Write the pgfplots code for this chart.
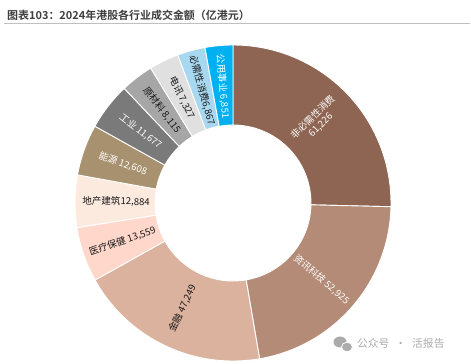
\documentclass[border=0pt]{standalone}
\usepackage{pgfplots}
\usepackage{pgfplotstable}
\pgfplotsset{compat=1.18}
\usepackage{fontspec}
\setmainfont{Noto Sans CJK SC}[BoldFont={Noto Sans CJK SC Bold}]
\definecolor{s0}{HTML}{8E6552}
\definecolor{s1}{HTML}{B38B76}
\definecolor{s2}{HTML}{DBB29E}
\definecolor{s3}{HTML}{FFD7CB}
\definecolor{s4}{HTML}{FDEADF}
\definecolor{s5}{HTML}{A8916F}
\definecolor{s6}{HTML}{7A7A7A}
\definecolor{s7}{HTML}{A6A6A6}
\definecolor{s8}{HTML}{E0E0E0}
\definecolor{s9}{HTML}{A8D8F0}
\definecolor{s10}{HTML}{00B0F0}
\definecolor{titlec}{HTML}{3F3F3F}
\definecolor{wm}{HTML}{ABABAB}
\pgfplotstableread{
idx value
0 61226
1 52925
2 47249
3 13559
4 12884
5 12608
6 11677
7 8115
8 7327
9 6867
10 6851
}\sectordata
\newcommand\sliceX[3]{%
  \path[fill=s#1,draw=white,line width=0.9bp]
    ([shift={(#2:78bp)}]axis cs:233,161) -- ([shift={(#2:158bp)}]axis cs:233,161)
    arc[start angle=#2,end angle=#3,radius=158bp]
    -- ([shift={(#3:78bp)}]axis cs:233,161)
    arc[start angle=#3,end angle=#2,radius=78bp] -- cycle;
}
\newcommand\slice[1]{%
  \edef\tmp{\noexpand\sliceX{#1}{\csname ang#1\endcsname}{\csname ang\the\numexpr#1+1\relax\endcsname}}%
  \tmp
}
\newcommand\labX[4]{%
  \node[text=#1,font=\fontsize{9.6}{11}\selectfont,align=center,inner sep=0pt,rotate=#3]
    at ([shift={(#2:117bp)}]axis cs:233,161) {#4};
}
\newcommand\lab[3]{%
  \edef\tmp{\noexpand\labX{#2}{\csname mid#1\endcsname}{\csname rot#1\endcsname}{\unexpanded{#3}}}%
  \tmp
}
\begin{document}
\begin{tikzpicture}
\useasboundingbox (0,0) rectangle (471bp,364bp);
\gdef\total{0}
\foreach \i in {0,...,10}{%
  \pgfplotstablegetelem{\i}{value}\of\sectordata
  \xdef\total{\fpeval{\total+\pgfplotsretval}}%
}
\gdef\cum{0}
\foreach \i in {0,...,10}{%
  \pgfplotstablegetelem{\i}{value}\of\sectordata
  \expandafter\xdef\csname ang\i\endcsname{\fpeval{90-360*\cum/\total}}%
  \expandafter\xdef\csname mid\i\endcsname{\fpeval{90-360*(\cum+\pgfplotsretval/2)/\total}}%
  \xdef\cum{\fpeval{\cum+\pgfplotsretval}}%
  \expandafter\xdef\csname rot\i\endcsname{\fpeval{cosd(\csname mid\i\endcsname)>=0 ? \csname mid\i\endcsname : \csname mid\i\endcsname+180}}%
}
\expandafter\xdef\csname ang11\endcsname{\fpeval{90-360*\cum/\total}}
\begin{axis}[
  hide axis, at={(0,0)}, anchor=south west,
  x=1bp, y=1bp, xmin=0, xmax=471, ymin=0, ymax=364,
  clip=false,
]
\slice{0}\slice{1}\slice{2}\slice{3}\slice{4}\slice{5}
\slice{6}\slice{7}\slice{8}\slice{9}\slice{10}
\lab{0}{white}{非必需性消费\\61,226}
\lab{1}{white}{资讯科技 52,925}
\lab{2}{black!90}{金融 47,249}
\lab{3}{black!90}{医疗保健 13,559}
\lab{4}{black!90}{地产建筑12,884}
\lab{5}{white}{能源 12,608}
\lab{6}{white}{工业 11,677}
\lab{7}{black!90}{原材料 8,115}
\lab{8}{black!90}{电讯 7,327}
\lab{9}{black!90}{必需性消费6,867}
\lab{10}{white}{公用事业 6,851}
% title and rule
\node[anchor=west,text=titlec,font=\bfseries\fontsize{11}{13}\selectfont,inner sep=0pt] at (axis cs:7,349) {图表103：2024年港股各行业成交金额（亿港元）};
\draw[color=black!25,line width=1bp] (axis cs:4,340) -- (axis cs:470,340);
% watermark
\fill[wm] (axis cs:340,22) ellipse[x radius=6.5bp,y radius=5.5bp];
\fill[wm,draw=white,line width=0.8bp] (axis cs:347,17) ellipse[x radius=5.5bp,y radius=4.8bp];
\node[anchor=west,text=wm,font=\fontsize{10.8}{12}\selectfont,inner sep=0pt] at (axis cs:357,21) {公众号\hspace{6bp}·\hspace{6bp}活报告};
\end{axis}
\end{tikzpicture}
\end{document}
